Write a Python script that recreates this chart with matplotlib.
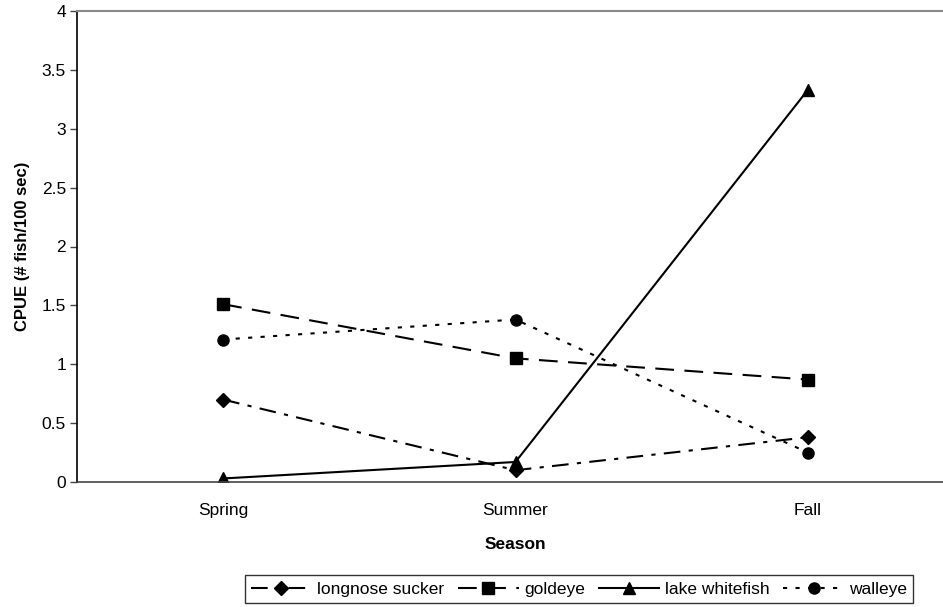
import matplotlib
matplotlib.use("Agg")
import matplotlib.pyplot as plt

plt.rcParams['font.family'] = ['Liberation Sans', 'DejaVu Sans']

seasons = ["Spring", "Summer", "Fall"]
longnose_sucker = [0.70, 0.10, 0.38]
goldeye = [1.51, 1.05, 0.87]
lake_whitefish = [0.03, 0.17, 3.33]
walleye = [1.21, 1.38, 0.25]
yticks = [0, 0.5, 1, 1.5, 2, 2.5, 3, 3.5, 4]
ytick_labels = ["0", "0.5", "1", "1.5", "2", "2.5", "3", "3.5", "4"]

fig = plt.figure(figsize=(9.43, 6.07), dpi=100)
ax = fig.add_axes([77/943, 1-482/607, (954-77)/943, (482-11)/607])

x = list(range(len(seasons)))
ax.plot(x, longnose_sucker, color='black', lw=1.5, dashes=(8, 4, 2, 4), marker='D', ms=7, label='longnose sucker')
ax.plot(x, goldeye, color='black', lw=1.5, dashes=(9, 5), marker='s', ms=8, label='goldeye')
ax.plot(x, lake_whitefish, color='black', lw=1.5, linestyle='-', marker='^', ms=8, label='lake whitefish')
ax.plot(x, walleye, color='black', lw=1.5, dashes=(2, 4), marker='o', ms=8, label='walleye')

ax.set_xlim(-0.5, 2.5)
ax.set_ylim(0, 4)
ax.set_xticks(x)
ax.set_xticklabels(seasons, fontsize=12.5)
ax.set_yticks(yticks)
ax.set_yticklabels(ytick_labels, fontsize=12.5)
ax.tick_params(axis='x', length=0, pad=15)
ax.tick_params(axis='y', length=5, width=1, color='#444444', pad=3)

ax.spines['right'].set_visible(False)
ax.spines['top'].set_color('#888888')
ax.spines['top'].set_linewidth(1.5)
ax.spines['left'].set_color('black')
ax.spines['left'].set_linewidth(1.2)
ax.spines['bottom'].set_color('#444444')
ax.spines['bottom'].set_linewidth(1.2)

ax.set_xlabel("Season", fontsize=12.5, fontweight='bold', labelpad=14)
ax.set_ylabel("CPUE (# fish/100 sec)", fontsize=12, fontweight='bold', labelpad=8)

leg = fig.legend(loc='center', bbox_to_anchor=(579/943, 1-589/607), ncol=4, fontsize=12.5,
                 frameon=True, fancybox=False, edgecolor='black', handlelength=3.5,
                 columnspacing=0.8, handletextpad=0.3, borderpad=0.35, borderaxespad=0)
leg.get_frame().set_linewidth(1.0)

fig.savefig("out.png", dpi=100)
